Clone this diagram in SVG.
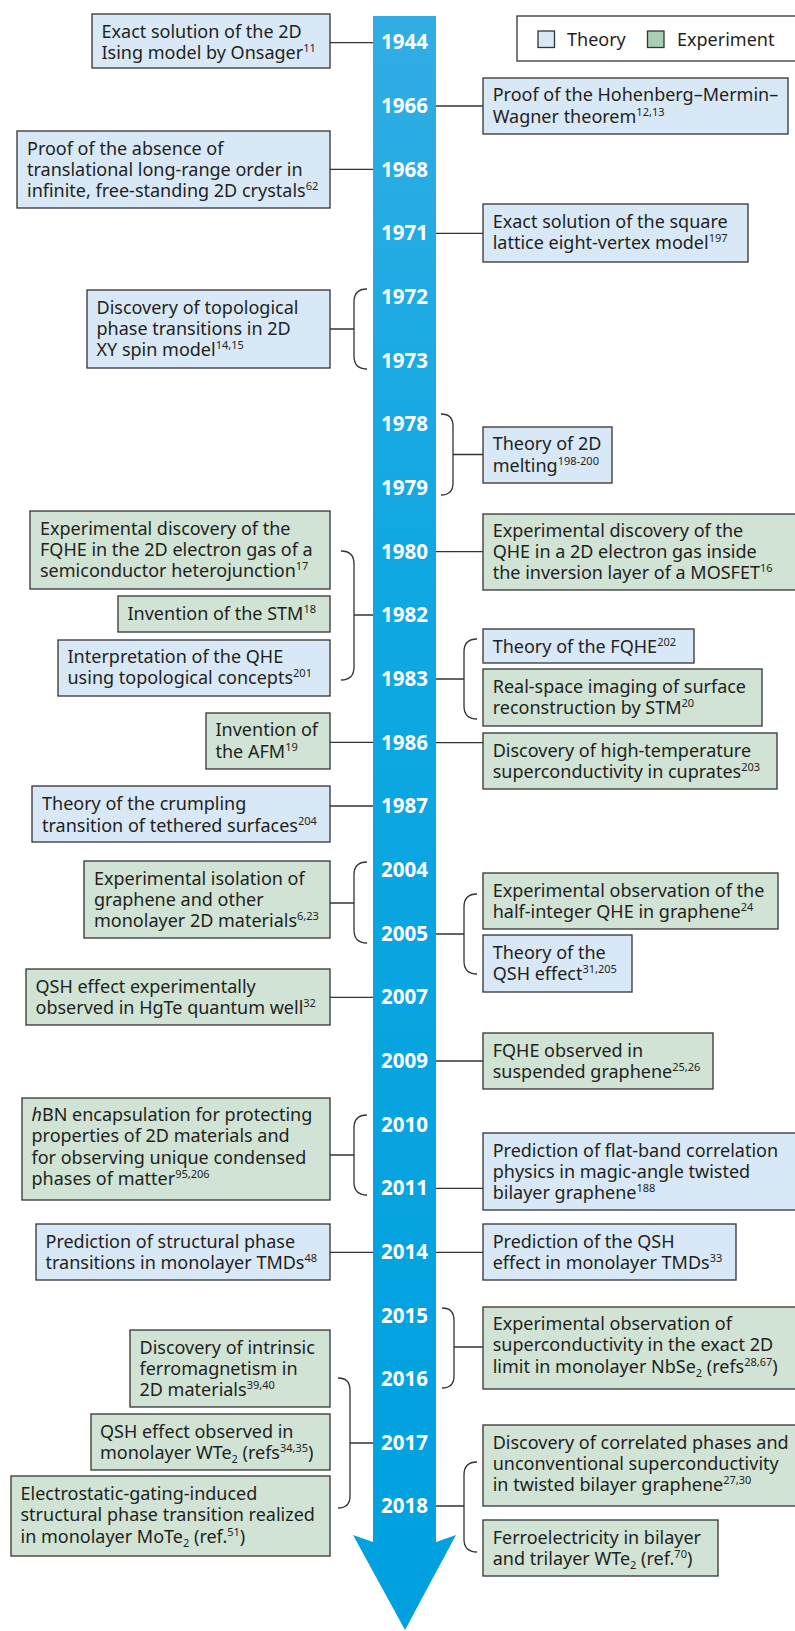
<svg xmlns="http://www.w3.org/2000/svg" width="795" height="1631" viewBox="0 0 795 1631">
<defs>
<linearGradient id="barg" x1="0" y1="0" x2="0" y2="1">
<stop offset="0" stop-color="#31ade4"/>
<stop offset="0.35" stop-color="#0fa8e2"/>
<stop offset="1" stop-color="#00a0df"/>
</linearGradient>
<style>
.th{fill:#d9e8f6;stroke:#333;stroke-width:1.3}
.ex{fill:#d0e3d5;stroke:#333;stroke-width:1.3}
.t{font-family:"Noto Sans","Open Sans","Liberation Sans",sans-serif;font-size:18px;fill:#231f20}
.s{font-size:11px}
.yr{font-family:"Noto Sans","Open Sans","Liberation Sans",sans-serif;font-size:20.5px;font-weight:bold;fill:#ffffff;text-anchor:middle}
.c{fill:none;stroke:#333;stroke-width:1.3}
</style>
</defs>
<rect width="795" height="1631" fill="#ffffff"/>

<g id="timeline">
<path d="M373,16 H436 V1542 L456,1535 L405,1630 L353,1535 L373,1542 Z" fill="url(#barg)"/>
<text class="yr" x="404.5" y="49">1944</text>
<text class="yr" x="404.5" y="113">1966</text>
<text class="yr" x="404.5" y="177">1968</text>
<text class="yr" x="404.5" y="240">1971</text>
<text class="yr" x="404.5" y="304">1972</text>
<text class="yr" x="404.5" y="368">1973</text>
<text class="yr" x="404.5" y="431">1978</text>
<text class="yr" x="404.5" y="495">1979</text>
<text class="yr" x="404.5" y="559">1980</text>
<text class="yr" x="404.5" y="622">1982</text>
<text class="yr" x="404.5" y="686">1983</text>
<text class="yr" x="404.5" y="750">1986</text>
<text class="yr" x="404.5" y="813">1987</text>
<text class="yr" x="404.5" y="877">2004</text>
<text class="yr" x="404.5" y="941">2005</text>
<text class="yr" x="404.5" y="1004">2007</text>
<text class="yr" x="404.5" y="1068">2009</text>
<text class="yr" x="404.5" y="1132">2010</text>
<text class="yr" x="404.5" y="1195">2011</text>
<text class="yr" x="404.5" y="1259">2014</text>
<text class="yr" x="404.5" y="1323">2015</text>
<text class="yr" x="404.5" y="1386">2016</text>
<text class="yr" x="404.5" y="1450">2017</text>
<text class="yr" x="404.5" y="1513">2018</text>
</g>

<g id="legend">
<rect x="517" y="16" width="290" height="45" fill="#ffffff" stroke="#333" stroke-width="1.3"/>
<rect x="538" y="31" width="16.5" height="16.5" class="th"/>
<text class="t" x="567" y="45.5">Theory</text>
<rect x="647.5" y="31" width="16.5" height="16.5" fill="#a9ceb1" stroke="#333" stroke-width="1.3"/>
<text class="t" x="677" y="45.5">Experiment</text>
</g>

<g id="connectors">
<path class="c" d="M330,42.7 H373"/>
<path class="c" d="M436,106 H483"/>
<path class="c" d="M330,169.3 H373"/>
<path class="c" d="M436,233.3 H483"/>
<path class="c" d="M367,289 Q354,289 354,302 V356 Q354,369 367,369 M330,329 H354"/>
<path class="c" d="M441,414 Q453,414 453,426 V483 Q453,495 441,495 M453,454.5 H483"/>
<path class="c" d="M436,551.7 H483"/>
<path class="c" d="M341,551 Q354,551 354,564 V667 Q354,680 341,680 M354,615 H373"/>
<path class="c" d="M477,639 Q464,639 464,652 V706 Q464,719 477,719 M436,679 H464"/>
<path class="c" d="M330,742.3 H373"/>
<path class="c" d="M436,742.7 H483"/>
<path class="c" d="M330,806 H373"/>
<path class="c" d="M367,862 Q354,862 354,875 V930 Q354,943 367,943 M330,903 H354"/>
<path class="c" d="M477,894 Q464,894 464,907 V961 Q464,974 477,974 M436,934 H464"/>
<path class="c" d="M330,997.3 H373"/>
<path class="c" d="M436,1061 H483"/>
<path class="c" d="M367,1115 Q354,1115 354,1128 V1182 Q354,1195 367,1195 M330,1155 H354"/>
<path class="c" d="M436,1188.3 H483"/>
<path class="c" d="M330,1252.3 H373"/>
<path class="c" d="M436,1252.3 H483"/>
<path class="c" d="M442,1308 Q454,1308 454,1320 V1376 Q454,1388 442,1388 M454,1347 H483"/>
<path class="c" d="M338,1378 Q350,1378 350,1390 V1496 Q350,1508 338,1508 M350,1443 H373"/>
<path class="c" d="M477,1462 Q464,1462 464,1475 V1539 Q464,1552 477,1552 M436,1506 H464"/>
</g>

<g id="n1944">
<rect x="92" y="14" width="238" height="54" class="th"/>
<text class="t" x="101.5" y="37.5">Exact solution of the 2D</text>
<text class="t" x="101.5" y="59">Ising model by Onsager<tspan class="s" dy="-7">11</tspan></text>
</g>
<g id="n1966">
<rect x="483" y="78" width="305" height="56" class="th"/>
<text class="t" x="492.7" y="101">Proof of the Hohenberg–Mermin–</text>
<text class="t" x="492.7" y="122.5">Wagner theorem<tspan class="s" dy="-7">12,13</tspan></text>
</g>
<g id="n1968">
<rect x="17" y="131" width="313" height="77" class="th"/>
<text class="t" x="27" y="155">Proof of the absence of</text>
<text class="t" x="27" y="176">translational long-range order in</text>
<text class="t" x="27" y="197">infinite, free-standing 2D crystals<tspan class="s" dy="-7">62</tspan></text>
</g>
<g id="n1971">
<rect x="483" y="204" width="265" height="58" class="th"/>
<text class="t" x="492.7" y="227.5">Exact solution of the square</text>
<text class="t" x="492.7" y="248.5">lattice eight-vertex model<tspan class="s" dy="-7">197</tspan></text>
</g>
<g id="n1972">
<rect x="87" y="290" width="243" height="78" class="th"/>
<text class="t" x="96.5" y="314">Discovery of topological</text>
<text class="t" x="96.5" y="335">phase transitions in 2D</text>
<text class="t" x="96.5" y="356">XY spin model<tspan class="s" dy="-7">14,15</tspan></text>
</g>
<g id="n1978">
<rect x="483" y="427" width="129" height="56" class="th"/>
<text class="t" x="492.7" y="450">Theory of 2D</text>
<text class="t" x="492.7" y="471.5">melting<tspan class="s" dy="-7">198-200</tspan></text>
</g>
<g id="n1980a">
<rect x="30" y="511" width="300" height="78" class="ex"/>
<text class="t" x="40" y="535">Experimental discovery of the</text>
<text class="t" x="40" y="556">FQHE in the 2D electron gas of a</text>
<text class="t" x="40" y="577">semiconductor heterojunction<tspan class="s" dy="-7">17</tspan></text>
</g>
<g id="n1980b">
<rect x="483" y="514" width="330" height="76" class="ex"/>
<text class="t" x="492.7" y="536.5">Experimental discovery of the</text>
<text class="t" x="492.7" y="558">QHE in a 2D electron gas inside</text>
<text class="t" x="492.7" y="579">the inversion layer of a MOSFET<tspan class="s" dy="-7">16</tspan></text>
</g>
<g id="n1982a">
<rect x="118" y="596" width="212" height="36" class="ex"/>
<text class="t" x="127.5" y="620">Invention of the STM<tspan class="s" dy="-7">18</tspan></text>
</g>
<g id="n1982b">
<rect x="58" y="640" width="272" height="56" class="th"/>
<text class="t" x="67.5" y="663">Interpretation of the QHE</text>
<text class="t" x="67.5" y="684">using topological concepts<tspan class="s" dy="-7">201</tspan></text>
</g>
<g id="n1983a">
<rect x="483" y="629" width="211" height="34" class="th"/>
<text class="t" x="492.7" y="652.5">Theory of the FQHE<tspan class="s" dy="-7">202</tspan></text>
</g>
<g id="n1983b">
<rect x="483" y="669" width="279" height="57" class="ex"/>
<text class="t" x="492.7" y="692.5">Real-space imaging of surface</text>
<text class="t" x="492.7" y="714">reconstruction by STM<tspan class="s" dy="-7">20</tspan></text>
</g>
<g id="n1986a">
<rect x="206" y="713" width="124" height="56" class="ex"/>
<text class="t" x="215.5" y="736">Invention of</text>
<text class="t" x="215.5" y="757.5">the AFM<tspan class="s" dy="-7">19</tspan></text>
</g>
<g id="n1986b">
<rect x="483" y="733" width="294" height="56" class="ex"/>
<text class="t" x="492.7" y="756.5">Discovery of high-temperature</text>
<text class="t" x="492.7" y="777.5">superconductivity in cuprates<tspan class="s" dy="-7">203</tspan></text>
</g>
<g id="n1987">
<rect x="32" y="786" width="298" height="56" class="th"/>
<text class="t" x="42" y="810">Theory of the crumpling</text>
<text class="t" x="42" y="831.5">transition of tethered surfaces<tspan class="s" dy="-7">204</tspan></text>
</g>
<g id="n2004">
<rect x="84" y="861" width="246" height="77" class="ex"/>
<text class="t" x="94" y="885">Experimental isolation of</text>
<text class="t" x="94" y="906">graphene and other</text>
<text class="t" x="94" y="927">monolayer 2D materials<tspan class="s" dy="-7">6,23</tspan></text>
</g>
<g id="n2005a">
<rect x="483" y="873" width="295" height="56" class="ex"/>
<text class="t" x="492.7" y="896.5">Experimental observation of the</text>
<text class="t" x="492.7" y="917.5">half-integer QHE in graphene<tspan class="s" dy="-7">24</tspan></text>
</g>
<g id="n2005b">
<rect x="483" y="935" width="149" height="57" class="th"/>
<text class="t" x="492.7" y="959">Theory of the</text>
<text class="t" x="492.7" y="980">QSH effect<tspan class="s" dy="-7">31,205</tspan></text>
</g>
<g id="n2007">
<rect x="26" y="969" width="304" height="56" class="ex"/>
<text class="t" x="35.5" y="992.5">QSH effect experimentally</text>
<text class="t" x="35.5" y="1013.5">observed in HgTe quantum well<tspan class="s" dy="-7">32</tspan></text>
</g>
<g id="n2009">
<rect x="483" y="1033" width="230" height="56" class="ex"/>
<text class="t" x="492.7" y="1056.5">FQHE observed in</text>
<text class="t" x="492.7" y="1077.5">suspended graphene<tspan class="s" dy="-7">25,26</tspan></text>
</g>
<g id="n2010">
<rect x="22" y="1098" width="308" height="102" class="ex"/>
<text class="t" x="31.5" y="1121"><tspan font-style="italic">h</tspan>BN encapsulation for protecting</text>
<text class="t" x="31.5" y="1142">properties of 2D materials and</text>
<text class="t" x="31.5" y="1163.5">for observing unique condensed</text>
<text class="t" x="31.5" y="1185">phases of matter<tspan class="s" dy="-7">95,206</tspan></text>
</g>
<g id="n2011">
<rect x="483" y="1133" width="330" height="77" class="th"/>
<text class="t" x="492.7" y="1156.5">Prediction of flat-band correlation</text>
<text class="t" x="492.7" y="1178">physics in magic-angle twisted</text>
<text class="t" x="492.7" y="1199">bilayer graphene<tspan class="s" dy="-7">188</tspan></text>
</g>
<g id="n2014a">
<rect x="36" y="1224" width="294" height="56" class="th"/>
<text class="t" x="45.5" y="1247.5">Prediction of structural phase</text>
<text class="t" x="45.5" y="1268.5">transitions in monolayer TMDs<tspan class="s" dy="-7">48</tspan></text>
</g>
<g id="n2014b">
<rect x="483" y="1224" width="253" height="56" class="th"/>
<text class="t" x="492.7" y="1247.5">Prediction of the QSH</text>
<text class="t" x="492.7" y="1268.5">effect in monolayer TMDs<tspan class="s" dy="-7">33</tspan></text>
</g>
<g id="n2015">
<rect x="483" y="1307" width="330" height="82" class="ex"/>
<text class="t" x="492.7" y="1330">Experimental observation of</text>
<text class="t" x="492.7" y="1351">superconductivity in the exact 2D</text>
<text class="t" x="492.7" y="1372.5">limit in monolayer NbSe<tspan class="s" dy="4">2</tspan><tspan dy="-4"> (refs</tspan><tspan class="s" dy="-7">28,67</tspan><tspan dy="7">)</tspan></text>
</g>
<g id="n2016">
<rect x="130" y="1330" width="200" height="77" class="ex"/>
<text class="t" x="139.5" y="1354">Discovery of intrinsic</text>
<text class="t" x="139.5" y="1375">ferromagnetism in</text>
<text class="t" x="139.5" y="1396">2D materials<tspan class="s" dy="-7">39,40</tspan></text>
</g>
<g id="n2017a">
<rect x="91" y="1414" width="239" height="56" class="ex"/>
<text class="t" x="100" y="1437.5">QSH effect observed in</text>
<text class="t" x="100" y="1458.5">monolayer WTe<tspan class="s" dy="4">2</tspan><tspan dy="-4"> (refs</tspan><tspan class="s" dy="-7">34,35</tspan><tspan dy="7">)</tspan></text>
</g>
<g id="n2017b">
<rect x="11" y="1476" width="319" height="80" class="ex"/>
<text class="t" x="20.5" y="1500">Electrostatic-gating-induced</text>
<text class="t" x="20.5" y="1521">structural phase transition realized</text>
<text class="t" x="20.5" y="1542.5">in monolayer MoTe<tspan class="s" dy="4">2</tspan><tspan dy="-4"> (ref.</tspan><tspan class="s" dy="-7">51</tspan><tspan dy="7">)</tspan></text>
</g>
<g id="n2018a">
<rect x="483" y="1425" width="330" height="81" class="ex"/>
<text class="t" x="492.7" y="1448.5">Discovery of correlated phases and</text>
<text class="t" x="492.7" y="1470">unconventional superconductivity</text>
<text class="t" x="492.7" y="1491">in twisted bilayer graphene<tspan class="s" dy="-7">27,30</tspan></text>
</g>
<g id="n2018b">
<rect x="483" y="1520" width="235" height="56" class="ex"/>
<text class="t" x="492.7" y="1543.5">Ferroelectricity in bilayer</text>
<text class="t" x="492.7" y="1565">and trilayer WTe<tspan class="s" dy="4">2</tspan><tspan dy="-4"> (ref.</tspan><tspan class="s" dy="-7">70</tspan><tspan dy="7">)</tspan></text>
</g>
</svg>
